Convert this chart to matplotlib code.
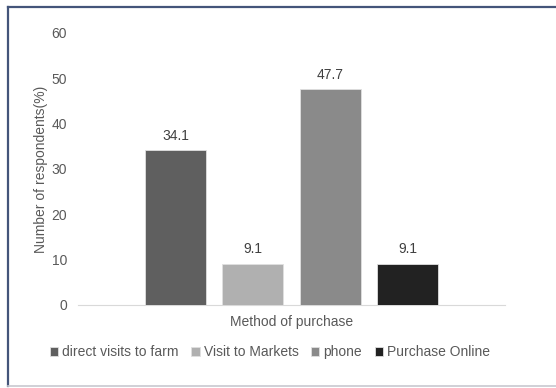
import matplotlib
matplotlib.use('Agg')
import matplotlib.pyplot as plt
import numpy as np
from matplotlib.lines import Line2D

methods = ['direct visits to farm', 'Visit to Markets', 'phone', 'Purchase Online']
shares = [34.1, 9.1, 47.7, 9.1]
colors = ['#5f5f5f', '#b0b0b0', '#8a8a8a', '#222222']
yticks = [0, 10, 20, 30, 40, 50, 60]

plt.rcParams['font.family'] = ['Liberation Sans', 'DejaVu Sans']
txt = '#595959'
fs = 10

fig = plt.figure(figsize=(5.56, 3.88), dpi=100)
fig.patch.set_facecolor('white')

# outer chart frame: dark top/left, light bottom
W, H = 556, 388
fig.add_artist(Line2D([8 / W, 1], [1 - 7 / H, 1 - 7 / H], color='#44557a', lw=1.6))
fig.add_artist(Line2D([8 / W, 8 / W], [1 - 7 / H, 1 - 386 / H], color='#44557a', lw=1.6))
fig.add_artist(Line2D([8 / W, 1], [1 - 386 / H, 1 - 386 / H], color='#c8c8d0', lw=1.2))

ax = fig.add_axes([78 / W, 1 - 305 / H, 427 / W, 272 / H])
x = np.arange(len(methods))
bars = ax.bar(x, shares, width=0.79, color=colors, edgecolor='#e0e0e0', lw=0.6,
              label=methods, zorder=3)
for xi, v in zip(x, shares):
    ax.text(xi, v + 1.6, f'{v:.1f}', ha='center', va='bottom', fontsize=fs, color='#404040')

ax.set_xlim(-1.26, 4.26)
ax.set_ylim(0, 60)
ax.set_yticks(yticks)
ax.set_xticks([])
ax.tick_params(axis='y', length=0, labelsize=fs, labelcolor=txt, pad=8)
for s in ['top', 'right', 'left']:
    ax.spines[s].set_visible(False)
ax.spines['bottom'].set_color('#d9d9d9')
ax.spines['bottom'].set_linewidth(0.8)

ax.set_ylabel('Number of respondents(%)', fontsize=fs, color=txt, labelpad=2)
ax.set_xlabel('Method of purchase', fontsize=fs, color=txt, labelpad=7)

fig.legend(handles=bars, labels=methods, loc='center', bbox_to_anchor=(270 / W, 1 - 352 / H),
           ncol=4, frameon=False, fontsize=fs, handlelength=0.6, handleheight=0.6,
           handletextpad=0.3, columnspacing=0.9, labelcolor=txt)

fig.savefig('out.png', dpi=100, facecolor='white')
